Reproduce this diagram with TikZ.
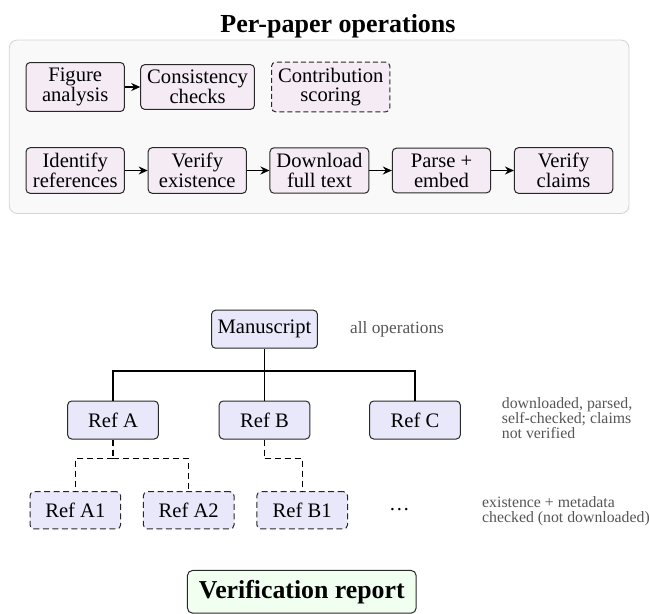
\documentclass[tikz,border=0pt]{standalone}
\usepackage{fontspec}
\setmainfont{Liberation Serif}
\usetikzlibrary{arrows.meta}
\definecolor{opfill}{RGB}{245,235,245}
\definecolor{reffill}{RGB}{232,232,250}
\definecolor{repfill}{RGB}{240,255,240}
\definecolor{panelfill}{RGB}{249,249,249}
\definecolor{paneldraw}{RGB}{212,212,212}
\definecolor{notegray}{RGB}{85,85,85}
\definecolor{boxdraw}{RGB}{40,40,40}
\begin{document}
\begin{tikzpicture}[x=1pt,y=-1pt,
  bodyfont/.style={font=\fontsize{20.6}{19.8}\selectfont},
  opbox/.style={draw=boxdraw, line width=1pt, fill=opfill, rounded corners=4pt, align=center, bodyfont, inner xsep=6.5pt, inner ysep=5.55pt, minimum width=98.3pt},
  optbox/.style={opbox, dash pattern=on 5pt off 3pt},
  flow/.style={-{Stealth[length=9pt,width=8pt]}, line width=1.4pt},
  refbox/.style={draw=boxdraw, line width=1pt, fill=reffill, rounded corners=4pt, bodyfont, minimum width=90.6pt, minimum height=38pt, inner sep=6pt},
  subref/.style={refbox, dash pattern=on 6pt off 3.5pt, minimum height=37.3pt},
  treeline/.style={line width=1.3pt},
  subline/.style={line width=1.3pt, dash pattern=on 6pt off 4pt},
  note/.style={text=notegray, align=left, inner sep=0pt, font=\fontsize{15.8}{15}\selectfont},
  panelbox/.style={draw=paneldraw, fill=panelfill, rounded corners=8pt, line width=0.8pt, inner sep=0pt},
]
\useasboundingbox (0,0) rectangle (649,614);

% panel
\node[panelbox, minimum width=619.7pt, minimum height=173.5pt] (panel) at (319.15,126.75) {};
\node[font=\bfseries\fontsize{26}{28}\selectfont, anchor=base, inner sep=0pt] (title) at (338,32.3) {Per-paper operations};

% row 1
\node[opbox] (fig) at (75.2,87) {Figure\\analysis};
\node[opbox] (cons) at (197.6,87) {Consistency\\checks};
\node[optbox] (contrib) at (330.7,87) {Contribution\\scoring};
\draw[flow] (fig) -- (cons);

% row 2
\node[opbox] (ident) at (75.2,170.5) {Identify\\references};
\node[opbox] (vexist) at (197.3,170.5) {Verify\\existence};
\node[opbox] (down) at (319.4,170.5) {Download\\full text};
\node[opbox] (parse) at (441.5,170.5) {Parse +\\embed};
\node[opbox] (vclaim) at (563.6,170.5) {Verify\\claims};
\draw[flow] (ident) -- (vexist);
\draw[flow] (vexist) -- (down);
\draw[flow] (down) -- (parse);
\draw[flow] (parse) -- (vclaim);

% tree
\node[refbox] (man) at (264.5,329.2) {Manuscript};
\node[refbox] (refA) at (113,420) {Ref A};
\node[refbox] (refB) at (264.5,420) {Ref B};
\node[refbox] (refC) at (415,420) {Ref C};
\node[subref] (refA1) at (75.3,510.3) {Ref A1};
\node[subref] (refA2) at (188.7,510.3) {Ref A2};
\node[subref] (refB1) at (302.2,510.3) {Ref B1};
\node[bodyfont, inner sep=0pt] (dots) at (399.5,510) {\dots};

\coordinate (jm) at (264.5,371);
\draw[treeline] (man.south) -- (jm);
\draw[treeline] (jm) -| (refA.north);
\draw[treeline] (jm) -| (refC.north);
\draw[treeline] (jm) -- (refB.north);

\coordinate (ja) at (113,458.3);
\coordinate (jb) at (264.5,458.3);
\draw[subline] (refA.south) -- (ja);
\draw[subline] (ja) -| (refA1.north);
\draw[subline] (ja) -| (refA2.north);
\draw[subline] (refB.south) -- (jb);
\draw[subline] (jb) -| (refB1.north);

% notes
\node[note, font=\fontsize{17.3}{17}\selectfont, anchor=base west] (n1) at (350,333.3) {all operations};
\node[note, anchor=north west] (n2) at (501.7,397.7) {downloaded, parsed,\\self-checked; claims\\not verified};
\node[note, anchor=north west] (n3) at (482,496.2) {existence + metadata\\checked (not downloaded)};

% report
\node[draw=boxdraw, fill=repfill, rounded corners=5pt, line width=1pt, font=\bfseries\fontsize{25.8}{27}\selectfont, inner xsep=11.5pt, inner ysep=9.5pt] (report) at (301.8,591.8) {Verification report};
\end{tikzpicture}
\end{document}
